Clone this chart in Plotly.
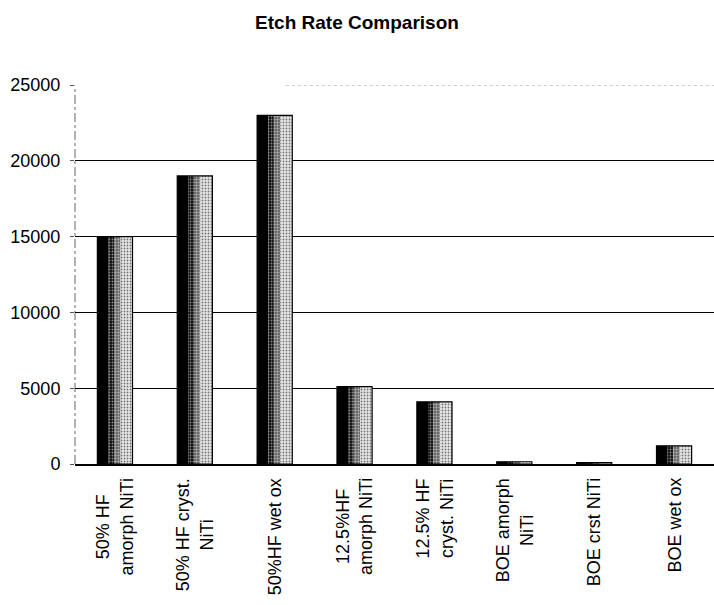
import plotly.graph_objects as go

categories = [
    "50% HF<br>amorph NiTi",
    "50% HF cryst.<br>NiTi",
    "50%HF wet ox",
    "12.5%HF<br>amorph NiTi",
    "12.5% HF<br>cryst. NiTi",
    "BOE amorph<br>NiTi",
    "BOE crst NiTi",
    "BOE wet ox",
]
etch_rates = [15000, 19000, 23000, 5100, 4100, 150, 100, 1200]
y_ticks = [0, 5000, 10000, 15000, 20000, 25000]

FONT = "Liberation Sans, Arial, sans-serif"
BAR_W = 0.44

fig = go.Figure()

# Each bar is built from vertical strips: a solid dark left edge,
# speckled middle bands and a pale speckled right side.
strips = [
    dict(w=0.14, color="#000000", shape="", fg="#000000", size=3, sol=0.5),
    dict(w=0.07, color="#111111", shape=".", fg="#ffffff", size=3, sol=0.3),
    dict(w=0.08, color="#555555", shape=".", fg="#ffffff", size=3, sol=0.5),
    dict(w=0.15, color="#e8e8e8", shape=".", fg="#000000", size=3, sol=0.3),
]
off = -BAR_W / 2
for s in strips:
    fig.add_trace(go.Bar(
        x=categories, y=etch_rates,
        offset=off, width=s["w"],
        marker=dict(
            color=s["color"],
            line=dict(width=0),
            pattern=dict(shape=s["shape"], fgcolor=s["fg"], size=s["size"], solidity=s["sol"]),
        ),
        hoverinfo="skip", showlegend=False,
    ))
    off += s["w"]

# Outline around every bar
fig.add_trace(go.Bar(
    x=categories, y=etch_rates,
    offset=-BAR_W / 2, width=BAR_W,
    marker=dict(color="rgba(0,0,0,0)", line=dict(color="#000000", width=1.2)),
    name="Etch rate", showlegend=False,
))

fig.update_layout(
    width=714, height=605,
    margin=dict(l=75, r=0, t=85, b=141),
    paper_bgcolor="white", plot_bgcolor="white",
    barmode="overlay",
    title=dict(
        text="<b>Etch Rate Comparison</b>",
        x=0.5, xanchor="center", y=0.963, yanchor="middle",
        font=dict(family=FONT, size=19, color="#000000"),
    ),
    font=dict(family=FONT, size=18, color="#000000"),
    xaxis=dict(
        showline=True, linecolor="#000000", linewidth=1.5,
        ticks="", showgrid=False, showticklabels=False,
        range=[-0.5, 7.5],
    ),
    yaxis=dict(
        range=[0, 25000],
        tickvals=y_ticks,
        ticktext=[str(v) for v in y_ticks],
        showgrid=True, gridcolor="#000000", gridwidth=1,
        ticks="outside", ticklen=4, tickcolor="#555555",
        zeroline=False, showline=False,
        tickfont=dict(family=FONT, size=18),
        ticklabelstandoff=6,
    ),
)

# Category labels: rotated, with centred lines
for cat in categories:
    fig.add_annotation(
        x=cat, xref="x", y=0, yref="paper",
        text=cat, textangle=-90, showarrow=False,
        xanchor="center", yanchor="top", yshift=-12, align="center",
        font=dict(family=FONT, size=18, color="#000000"),
    )

# Dashed left axis and dotted top line
fig.add_shape(type="line", xref="paper", yref="y", x0=0, x1=0, y0=0, y1=25000,
              line=dict(color="#666666", width=1, dash="dashdot"), layer="below")
fig.add_shape(type="line", xref="paper", yref="y", x0=0, x1=1, y0=25000, y1=25000,
              line=dict(color="#ffffff", width=2), layer="above")
fig.add_shape(type="line", xref="paper", yref="y", x0=0.33, x1=1, y0=25000, y1=25000,
              line=dict(color="#999999", width=1, dash="dot"), layer="above")

fig.write_html("out.html")
